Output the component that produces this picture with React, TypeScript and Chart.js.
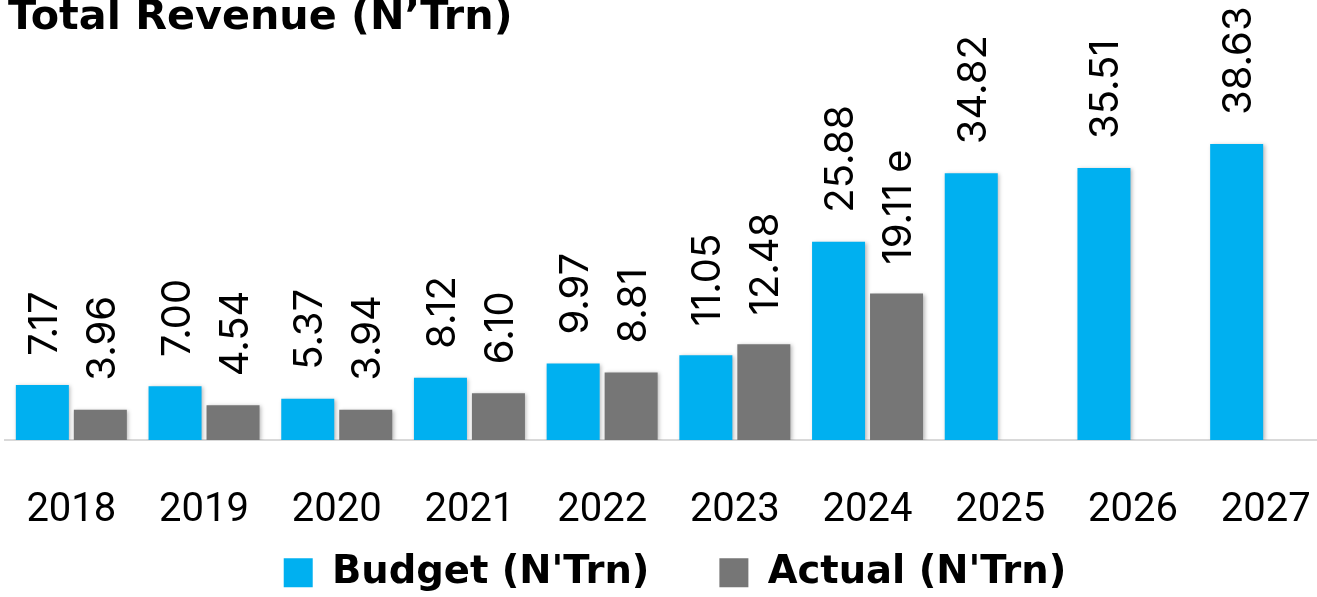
import React, { useEffect, useRef } from "react";
import { Chart, registerables } from "chart.js";

Chart.register(...registerables);

const categories = ["2018", "2019", "2020", "2021", "2022", "2023", "2024", "2025", "2026", "2027"];
const budgetValues = [7.17, 7.0, 5.37, 8.12, 9.97, 11.05, 25.88, 34.82, 35.51, 38.63];
const actualValues: (number | null)[] = [3.96, 4.54, 3.94, 6.1, 8.81, 12.48, 19.11, null, null, null];
const budgetLabels = ["7.17", "7.00", "5.37", "8.12", "9.97", "11.05", "25.88", "34.82", "35.51", "38.63"];
const actualLabels: (string | null)[] = ["3.96", "4.54", "3.94", "6.10", "8.81", "12.48", "19.11 e", null, null, null];
const seriesNames = ["Budget (N'Trn)", "Actual (N'Trn)"];
const titleText = "Total Revenue (N\u2019Trn)";

const BLUE = "#00B0F0";
const GRAY = "#767676";

const shadowPlugin = {
  id: "barShadow",
  beforeDatasetsDraw(chart: any) {
    const ctx = chart.ctx;
    ctx.save();
    ctx.shadowColor = "rgba(0,0,0,0.28)";
    ctx.shadowBlur = 4;
    ctx.shadowOffsetX = 1.5;
    ctx.shadowOffsetY = 1;
  },
  afterDatasetsDraw(chart: any) {
    chart.ctx.restore();
  },
};

const labelPlugin = {
  id: "rotLabels",
  afterDatasetsDraw(chart: any) {
    const ctx = chart.ctx;
    const sets = [budgetLabels, actualLabels];
    ctx.save();
    ctx.fillStyle = "#000";
    ctx.font = "40px Inter";
    ctx.textAlign = "left";
    ctx.textBaseline = "alphabetic";
    sets.forEach((labels, di) => {
      const meta = chart.getDatasetMeta(di);
      meta.data.forEach((el: any, i: number) => {
        const txt = labels[i];
        if (txt == null) return;
        ctx.save();
        ctx.translate(el.x + 14.5, el.y - 29);
        ctx.rotate(-Math.PI / 2);
        ctx.fillText(txt, 0, 0);
        ctx.restore();
      });
    });
    ctx.restore();
  },
};

const titlePlugin = {
  id: "topTitle",
  afterDraw(chart: any) {
    const ctx = chart.ctx;
    ctx.save();
    ctx.fillStyle = "#000";
    ctx.font = 'bold 41.3px "DejaVu Sans"';
    ctx.textAlign = "left";
    ctx.textBaseline = "alphabetic";
    ctx.fillText(titleText, 8, 29);
    ctx.restore();
  },
};

export default function App() {
  const ref = useRef<HTMLCanvasElement | null>(null);
  useEffect(() => {
    if (!ref.current) return;
    const chart = new Chart(ref.current, {
      type: "bar",
      data: {
        labels: categories,
        datasets: [
          { label: seriesNames[0], data: budgetValues, backgroundColor: BLUE, borderWidth: 0 },
          { label: seriesNames[1], data: actualValues, backgroundColor: GRAY, borderWidth: 0 },
        ],
      },
      options: {
        responsive: false,
        animation: false,
        devicePixelRatio: 1,
        datasets: { bar: { categoryPercentage: 0.874, barPercentage: 0.914 } },
        layout: { padding: { left: 5, right: 0, top: 0, bottom: 0 } },
        scales: {
          x: {
            grid: { display: false, drawTicks: false },
            border: { display: true, color: "#d9d9d9", width: 2 },
            ticks: {
              color: "#000",
              mirror: true,
              font: { family: "Roboto", size: 40, lineHeight: 1.2 },
              padding: -95,
            },
            afterFit: (scale: any) => {
              scale.height = 43.5;
            },
          },
          y: {
            display: true,
            position: "right",
            min: 0,
            max: 57.42,
            grid: { display: false, drawTicks: false },
            border: { display: false },
            ticks: { display: false },
            afterFit: (scale: any) => {
              scale.width = 13;
            },
          },
        },
        plugins: {
          legend: {
            position: "bottom",
            maxHeight: 113.5,
            labels: {
              color: "#000",
              boxWidth: 29,
              boxHeight: 29,
              padding: 70,
              font: { family: "DejaVu Sans", size: 38.5, weight: "bold" },
            },
          },
          tooltip: { enabled: false },
          title: { display: false },
        },
      },
      plugins: [shadowPlugin, labelPlugin, titlePlugin],
    });
    return () => chart.destroy();
  }, []);
  return (
    <div style={{ position: "fixed", left: 0, top: 0, width: 1317, height: 597, overflow: "hidden", background: "#fff" }}>
      <canvas ref={ref} width={1345} height={597} style={{ width: 1345, height: 597, display: "block" }} />
    </div>
  );
}
